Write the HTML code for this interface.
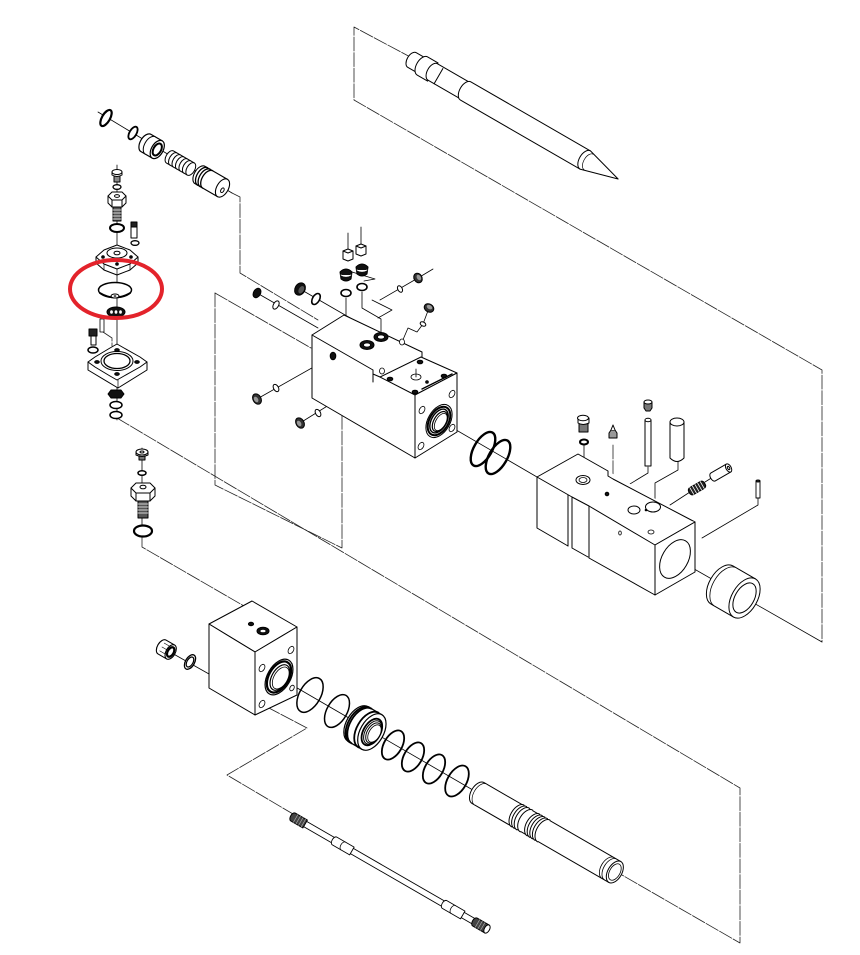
<!DOCTYPE html>
<html><head><meta charset="utf-8"><style>html,body{margin:0;padding:0;background:#fff;}svg{display:block;}</style></head>
<body>
<svg xmlns="http://www.w3.org/2000/svg" width="860" height="955" viewBox="0 0 860 955" fill="none" stroke="#000" stroke-width="1" stroke-linejoin="round" stroke-linecap="round">
<rect width="860" height="955" fill="#fff" stroke="none"/>

<!-- dashed connectors -->
<g stroke="#222" stroke-width="0.8" stroke-dasharray="14 1.6">
<path d="M414,59 L354,27 L354,100 L822,370 L822,642"/>
<path d="M232,193 L240,197 L240,273 L318,320"/>
<path d="M215,293 L311,348"/>
<path d="M215,293 L215,485 L342,548 L342,405 L372,388"/>
<path d="M117,418 L740,788 L740,943 L622,875"/>
<path d="M142,537 L142,547 L263,617 L263,628"/>
<path d="M267,707 L307,728 L227,775 L293,814"/>
<path d="M613,445 V497 L643,512"/>
<path d="M103,332 L112,338 V346"/>
</g>

<!-- axis / thin solid lines -->
<g stroke-width="0.8">
<path d="M98,112 L232,193"/>
<path d="M117,165 V420"/>
<path d="M142,448 V537"/>
<path d="M439,420 L537,477"/>
<path d="M675,558 L822,642"/>
<path d="M170,652 L209,674"/>
<path d="M280,678 L478,793"/>
<path d="M257,293 L318,328"/>
<path d="M300,289 L352,319"/>
<path d="M348,233 V250 M361,227 V245"/>
<path d="M346,298 V317 L367,329 V343"/>
<path d="M362,292 V308 L381,319 V336"/>
<path d="M352,272 L375,279 L364,281"/>
<path d="M372,300 L392,310 L378,318"/>
<path d="M257,399 L333,356"/>
<path d="M300,423 L382,372"/>
<path d="M433,269 L418,278 L380,300"/>
<path d="M429,308 L423,324 L417,332 L408,328 L405,335 L402,342"/>
<path d="M584,445 V478"/>
<path d="M648,467 V473 L620,490 L645,505"/>
<path d="M678,462 V470 L655,483 V507"/>
<path d="M670,505 L690,492"/>
<path d="M705,482 L713,477"/>
<path d="M758,498 V505 L702,538"/>
</g>

<!-- ===== pencil / chisel ===== -->
<g transform="translate(412,60) rotate(30)" fill="#fff">
<path d="M0,-8.5 L12,-8.5 L12,8.5 L0,8.5 A4.9,8.5 0 0 1 0,-8.5 Z"/>
<path d="M12,-10.5 L24,-10.5 L24,10.5 L12,10.5 A6,10.5 0 0 1 12,-10.5 Z"/>
<path d="M24,-9.5 L62,-9.5 L62,9.5 L24,9.5 A5.5,9.5 0 0 1 24,-9.5 Z"/>
<path d="M31,-8 V9.5"/>
<path d="M62,-10.5 L200,-10.5 L238,0 L200,10.5 L62,10.5 A6,10.5 0 0 1 62,-10.5 Z"/>
<path d="M200,-10.5 A6,10.5 0 0 0 200,10.5"/>
<path d="M204,-9 A5,9 0 0 0 204,9" stroke-width="0.7"/>
</g>

<!-- ===== top-left tube chain ===== -->
<g transform="translate(106,118) rotate(30)"><ellipse rx="4" ry="9" stroke-width="2.2" fill="#fff"/></g>
<g transform="translate(133,133) rotate(30)"><ellipse rx="3.5" ry="7" stroke-width="1.8" fill="#fff"/></g>
<g transform="translate(146,143) rotate(30)" fill="#fff">
<path d="M0,-10 L13,-10 L13,10 L0,10 A5.8,10 0 0 1 0,-10 Z" stroke-width="1.2"/>
<path d="M5,-10 A5.8,10 0 0 0 5,10"/>
<ellipse cx="13" rx="5.8" ry="10" stroke-width="1.2"/>
<ellipse cx="13" rx="3.8" ry="6.5" stroke-width="2"/>
</g>
<g transform="translate(170,157) rotate(30)" fill="#fff">
<path d="M0,-7 L24,-7 L24,7 L0,7 A4,7 0 0 1 0,-7 Z"/>
<path d="M4,-7 A4,7 0 0 0 4,7 M8,-7 A4,7 0 0 0 8,7 M12,-7 A4,7 0 0 0 12,7 M16,-7 A4,7 0 0 0 16,7 M20,-7 A4,7 0 0 0 20,7"/>
<ellipse cx="24" rx="4" ry="7"/>
</g>
<g transform="translate(200,175) rotate(30)" fill="#fff">
<path d="M0,-10 L26,-10 L26,10 L0,10 A5.8,10 0 0 1 0,-10 Z" stroke-width="1.1"/>
<path d="M3,-10 A5.8,10 0 0 0 3,10 M6,-10 A5.8,10 0 0 0 6,10 M9,-10 A5.8,10 0 0 0 9,10" stroke-width="1.3"/>
<ellipse cx="26" rx="5.8" ry="10" stroke-width="1.1"/>
<ellipse cx="27" cy="2" rx="1.5" ry="2.5"/>
</g>

<!-- ===== left column 1 ===== -->
<g fill="#fff">
<path d="M114,176 h6 v6 h-6 Z" fill="#888"/>
<path d="M112,172 V175 Q117,178 122,175 V172"/>
<ellipse cx="117" cy="172" rx="5" ry="2.5"/>
<ellipse cx="117" cy="187" rx="4" ry="2.3" stroke-width="1.3"/>
<path d="M108,196 V203 L112,207 H122 L126,203 V196"/>
<path d="M112,200 V207 M122,200 V207"/>
<polygon points="108,196 112,192 122,192 126,196 122,200 112,200"/>
<ellipse cx="117" cy="196" rx="2.5" ry="1.4"/>
<rect x="113" y="207" width="8" height="14" fill="#555"/>
<path d="M113,210 h8 M113,213 h8 M113,216 h8 M113,219 h8" stroke="#fff" stroke-width="0.8"/>
<ellipse cx="117" cy="228" rx="7" ry="4" stroke-width="2"/>
<!-- side screw -->
<rect x="131" y="226" width="6" height="12" fill="#fff"/>
<path d="M131,222 h6 v5 h-6 Z" fill="#222"/>
<ellipse cx="135" cy="243" rx="4" ry="2.3" stroke-width="1.3"/>
<!-- cover -->
<path d="M96,257 V263 L104,270 L117,275 L130,270 L138,263 V257"/>
<polygon points="96,257 104,250 117,245 130,250 138,257 130,264 117,269 104,264"/>
<path d="M104,264 V270 M117,269 V275 M130,264 V270" stroke-width="0.7"/>
<ellipse cx="117" cy="253" rx="10" ry="5"/>
<ellipse cx="117" cy="253" rx="3" ry="1.8"/>
<circle cx="103" cy="257" r="1.3" fill="#111"/><circle cx="131" cy="257" r="1.3" fill="#111"/><circle cx="117" cy="264" r="1.3" fill="#111"/>
<!-- diaphragm -->
<ellipse cx="115" cy="290" rx="16.5" ry="7.5" stroke-width="1.5"/>
<path d="M100,293 Q115,302 130,293" stroke-width="1.8"/>
<ellipse cx="115" cy="296" rx="4" ry="2" stroke-width="1"/>
<ellipse cx="115" cy="296" rx="1.4" ry="0.8" fill="#111" stroke="none"/>
<!-- spring ring -->
<ellipse cx="116" cy="312" rx="9" ry="5" fill="#111"/>
<ellipse cx="111.5" cy="312" rx="1.4" ry="1.8" fill="#fff" stroke="none"/><ellipse cx="116" cy="312" rx="1.4" ry="1.8" fill="#fff" stroke="none"/><ellipse cx="120.5" cy="312" rx="1.4" ry="1.8" fill="#fff" stroke="none"/>
<!-- small pin -->
<rect x="100" y="319" width="4" height="13" stroke-width="0.8"/>
<!-- screw -->
<rect x="91" y="336" width="5" height="9" fill="#fff"/>
<path d="M89,329 h8 v7 h-8 Z" fill="#222"/>
<ellipse cx="93" cy="350" rx="5" ry="3" stroke-width="1.5"/>
<!-- base flange -->
<path d="M88,362 V370 L118,388 L147,370 V362"/>
<polygon points="88,362 95,357 110,348 117,344 124,348 140,357 147,362 140,367 124,376 117,380 110,376 95,367"/>
<path d="M118,380 V388" stroke-width="0.7"/>
<ellipse cx="117" cy="361" rx="16" ry="9.5"/>
<ellipse cx="117" cy="361" rx="13" ry="7.5" stroke-width="1.3"/>
<ellipse cx="97" cy="362" rx="2.3" ry="1.4" fill="#111"/><ellipse cx="137" cy="362" rx="2.3" ry="1.4" fill="#111"/><ellipse cx="117" cy="350" rx="2.3" ry="1.4" fill="#111"/><ellipse cx="117" cy="374" rx="2.3" ry="1.4" fill="#111"/>
<!-- nut & rings -->
<polygon points="111,390 121,390 124,394 121,398 111,398 108,394" fill="#111"/>
<ellipse cx="116" cy="405" rx="6" ry="3.5" stroke-width="1.5"/>
<ellipse cx="116" cy="415" rx="6" ry="3.5" stroke-width="1.5"/>
</g>

<!-- ===== left column 2 ===== -->
<g fill="#fff">
<rect x="139" y="454" width="6" height="6" fill="#777"/>
<path d="M136,452 V455 Q142,458 148,455 V452"/>
<ellipse cx="142" cy="452" rx="6" ry="3"/>
<ellipse cx="142" cy="452" rx="2" ry="1"/>
<ellipse cx="142" cy="473" rx="4" ry="2.3" stroke-width="1.5"/>
<path d="M131,488 V496 L136,501 H150 L155,496 V488"/>
<path d="M136,493 V501 M150,493 V501"/>
<polygon points="131,488 136,483 150,483 155,488 150,493 136,493"/>
<ellipse cx="143" cy="487" rx="3" ry="1.8"/>
<rect x="138" y="501" width="10" height="17" fill="#555"/>
<path d="M138,504 h10 M138,507 h10 M138,510 h10 M138,513 h10" stroke="#fff" stroke-width="0.8"/>
<ellipse cx="143" cy="531" rx="9" ry="5.5" stroke-width="2.2"/>
</g>

<!-- ===== main block ===== -->
<g fill="#fff">
<polygon points="312,335 344,315 422,352 422,357 415,395 415,458 312,398" stroke="none"/>
<path d="M312,335 L344,315 L422,352 L422,357"/>
<path d="M312,335 L373,370 V382 M373,374 L380,377"/>
<polygon points="380,377 421,357 457,373 415,395"/>
<polygon points="415,395 457,373 457,432 415,458"/>
<path d="M312,335 V398 L415,458"/>
<!-- top holes -->
<ellipse cx="367" cy="345" rx="7" ry="4.5" fill="#111"/><ellipse cx="367" cy="345" rx="3.5" ry="2" fill="#fff" stroke-width="0.8"/>
<ellipse cx="381" cy="337" rx="7" ry="4.5" fill="#111"/><ellipse cx="381" cy="337" rx="3.5" ry="2" fill="#fff" stroke-width="0.8"/>
<ellipse cx="402" cy="342" rx="2.5" ry="3" stroke-width="0.8"/>
<ellipse cx="382" cy="371" rx="2.5" ry="3" stroke-width="0.8"/>
<ellipse cx="333" cy="356" rx="2.8" ry="3.8" fill="#111"/>
<!-- flange top holes -->
<ellipse cx="420" cy="362" rx="2.8" ry="1.8" fill="#111"/>
<ellipse cx="444" cy="376" rx="2.8" ry="1.8" fill="#111"/>
<ellipse cx="415" cy="392" rx="2.8" ry="1.8" fill="#111"/>
<ellipse cx="390" cy="379" rx="2.8" ry="1.8" fill="#111"/>
<ellipse cx="416" cy="377" rx="5" ry="3" stroke-width="0.8"/>
<path d="M416,369 V377" stroke-width="0.8"/>
<circle cx="427" cy="382" r="1.3" fill="#111"/>
<path d="M422,389 L452,374" stroke-width="1.4"/>
<!-- bore -->
<g transform="translate(439,421) rotate(30)">
<ellipse rx="11" ry="18" stroke-width="1"/>
<ellipse rx="9.5" ry="15.5" stroke-width="2"/>
<ellipse rx="7.5" ry="13" stroke-width="1.4"/>
<ellipse cx="1" rx="6" ry="11" stroke-width="1.2"/>
<ellipse cx="2" rx="5" ry="9.5" stroke-width="0.8"/>
</g>
<g transform="rotate(30 422 410)"><ellipse cx="422" cy="410" rx="2.5" ry="4" stroke-width="0.8"/></g>
<g transform="rotate(30 452 394)"><ellipse cx="452" cy="394" rx="2.5" ry="4" stroke-width="0.8"/></g>
<g transform="rotate(30 452 428)"><ellipse cx="452" cy="428" rx="2.5" ry="4" stroke-width="0.8"/></g>
<g transform="rotate(30 421 446)"><ellipse cx="421" cy="446" rx="2.5" ry="4" stroke-width="0.8"/></g>
</g>

<!-- main block small parts -->
<g fill="#fff">
<!-- top fittings -->
<path d="M343,251 v8 l5,2 l5,-2 v-8" /><polygon points="343,251 348,249 353,251 348,253"/>
<path d="M356,246 v8 l5,2 l5,-2 v-8" /><polygon points="356,246 361,244 366,246 361,248"/>
<path d="M340,272 Q346,266 352,272 L351,279 Q346,283 341,279 Z" fill="#111"/>
<path d="M341,275 Q346,278 351,275" stroke="#fff" stroke-width="0.8"/>
<path d="M356,267 Q362,261 368,267 L367,274 Q362,278 357,274 Z" fill="#111"/>
<path d="M357,270 Q362,273 367,270" stroke="#fff" stroke-width="0.8"/>
<ellipse cx="346" cy="293" rx="5" ry="3.5" stroke-width="1.6"/>
<ellipse cx="362" cy="287" rx="5" ry="3.5" stroke-width="1.6"/>
<!-- left plugs -->
<g transform="translate(257,293) rotate(30)"><ellipse rx="3.5" ry="5" fill="#111"/></g>
<g transform="translate(276,305) rotate(30)"><ellipse rx="2.6" ry="4.5" stroke-width="1"/></g>
<g transform="translate(300,289) rotate(30)"><ellipse rx="5" ry="6.5" fill="#111"/><ellipse cx="1.5" rx="2.5" ry="4" fill="#555" stroke="none"/></g>
<g transform="translate(316,299) rotate(30)"><ellipse rx="3.5" ry="6" stroke-width="1.6"/></g>
<!-- lower screws -->
<g transform="translate(257,399) rotate(-30)"><ellipse rx="4" ry="5.5" fill="#333"/><ellipse cx="-1" rx="2" ry="3" fill="#999" stroke="none"/></g>
<g transform="translate(276,388) rotate(-30)"><ellipse rx="2.4" ry="4" stroke-width="1"/></g>
<g transform="translate(300,423) rotate(-30)"><ellipse rx="4" ry="5.5" fill="#333"/><ellipse cx="-1" rx="2" ry="3" fill="#999" stroke="none"/></g>
<g transform="translate(318,413) rotate(-30)"><ellipse rx="2.4" ry="4" stroke-width="1"/></g>
<!-- right plugs -->
<g transform="translate(418,278) rotate(-30)"><ellipse rx="4" ry="5" fill="#333"/><ellipse cx="1" rx="2" ry="3" fill="#999" stroke="none"/></g>
<g transform="translate(400,289) rotate(-30)"><ellipse rx="2.2" ry="3.5" stroke-width="1"/></g>
<g transform="translate(429,308) rotate(-60)"><ellipse rx="4" ry="5" fill="#333"/><ellipse cx="1" rx="2" ry="3" fill="#999" stroke="none"/></g>
<g transform="translate(423,324) rotate(-60)"><ellipse rx="2" ry="3" stroke-width="1"/></g>
</g>

<!-- o-rings between blocks -->
<g transform="translate(483,449) rotate(30)"><ellipse rx="9" ry="19" stroke-width="2.4"/></g>
<g transform="translate(498,457) rotate(30)"><ellipse rx="9" ry="19" stroke-width="2.4"/></g>

<!-- ===== right block ===== -->
<g fill="#fff">
<polygon points="537,477 578,454 608,471 695,522 695,572 655,595 588,558 572,549 568,546 537,528" stroke="none"/>
<path d="M537,477 L578,454 L608,471 V476 L613,479 L695,522"/>
<path d="M537,477 L572,497 L589,506 L655,545 L695,522"/>
<path d="M537,477 V528 L568,546"/>
<path d="M568,495 V546 M572,497 V548 L588,557"/>
<path d="M589,506 V558 L655,595"/>
<polygon points="655,545 695,522 695,572 655,595"/>
<g transform="translate(675,559) rotate(30)"><ellipse rx="13" ry="21"/></g>
<ellipse cx="583" cy="480" rx="7" ry="4.5" stroke-width="1"/>
<ellipse cx="583" cy="480" rx="4" ry="2.5" stroke-width="0.8"/>
<circle cx="607" cy="494" r="1.8" fill="#111"/>
<ellipse cx="634" cy="510" rx="6" ry="4" stroke-width="1"/>
<ellipse cx="653" cy="507" rx="7.5" ry="5" stroke-width="1"/>
<ellipse cx="651" cy="532" rx="3" ry="2" stroke-width="0.8"/>
<ellipse cx="620" cy="533" rx="1.3" ry="2" stroke-width="0.8"/>
<circle cx="646" cy="510" r="0.8" fill="#111"/>
</g>

<!-- right block top parts -->
<g fill="#fff">
<rect x="579" y="423" width="9" height="9" fill="#777"/>
<path d="M578,418 V423 Q583,426 589,423 V418"/>
<ellipse cx="583" cy="418" rx="5.5" ry="2.8"/>
<ellipse cx="584" cy="442" rx="4" ry="2.5" stroke-width="2"/>
<path d="M609,438 L609,433 L611,430 H615 L617,433 L617,438 Z" fill="#999"/>
<path d="M611,430 L613,425 L615,430"/>
<path d="M644,402 h8 v6 l-2,3 h-4 l-2,-3 Z" fill="#777"/>
<ellipse cx="648" cy="402" rx="4" ry="2"/>
<rect x="645" y="420" width="6" height="46"/>
<ellipse cx="648" cy="420" rx="3" ry="1.7"/>
<path d="M670,422 V458 Q677,465 684,458 V422"/>
<ellipse cx="677" cy="422" rx="7" ry="4"/>
<g transform="translate(697,488) rotate(-30)">
<rect x="-9" y="-4" width="18" height="8" rx="3" fill="#222"/>
<path d="M-6,-4 V4 M-3,-4 V4 M0,-4 V4 M3,-4 V4 M6,-4 V4" stroke="#fff" stroke-width="0.8"/>
</g>
<g transform="translate(713,477) rotate(-30)">
<path d="M0,-4.5 L18,-4.5 L18,4.5 L0,4.5 A2.6,4.5 0 0 1 0,-4.5 Z"/>
<ellipse cx="18" rx="2.6" ry="4.5"/>
<ellipse cx="18" rx="1" ry="1.8"/>
</g>
<rect x="756" y="481" width="4" height="17" stroke-width="0.9"/>
<ellipse cx="758" cy="481" rx="2" ry="1" fill="#333"/>
</g>

<!-- cap -->
<g transform="translate(722,585) rotate(30)" fill="#fff">
<path d="M0,-22 L26,-22 L26,22 L0,22 A12.8,22 0 0 1 0,-22 Z"/>
<path d="M4,-22 A12.8,22 0 0 0 4,22" stroke-width="0.8"/>
<ellipse cx="26" rx="12.8" ry="22"/>
<ellipse cx="26" rx="9.5" ry="16.5"/>
</g>

<!-- ===== lower block ===== -->
<g fill="#fff">
<polygon points="209,624 252,601 297,627 255,652"/>
<polygon points="209,624 255,652 255,715 209,688"/>
<polygon points="255,652 297,627 297,695 255,715"/>
<ellipse cx="263" cy="631" rx="6" ry="3.8" fill="#111"/>
<ellipse cx="263" cy="631" rx="3" ry="1.7" fill="#fff" stroke-width="0.8"/>
<ellipse cx="251" cy="624" rx="2.6" ry="1.7" fill="#111"/>
<g transform="translate(279,677) rotate(30)">
<ellipse rx="11.5" ry="19.5" stroke-width="1.2"/>
<ellipse rx="10" ry="17" stroke-width="2.2"/>
<ellipse cx="1" rx="8" ry="14" stroke-width="1.2"/>
<ellipse cx="2" rx="6.8" ry="12" stroke-width="0.8"/>
</g>
<g transform="rotate(30 262 668)"><ellipse cx="262" cy="668" rx="2.5" ry="4" stroke-width="0.8"/></g>
<g transform="rotate(30 291 650)"><ellipse cx="291" cy="650" rx="2.5" ry="4" stroke-width="0.8"/></g>
<g transform="rotate(30 262 704)"><ellipse cx="262" cy="704" rx="2.5" ry="4" stroke-width="0.8"/></g>
<g transform="rotate(30 292 688)"><ellipse cx="292" cy="688" rx="2" ry="3" stroke-width="0.8"/></g>
</g>

<!-- nut & washer left of lower block -->
<g transform="translate(162,647) rotate(30)" fill="#fff">
<path d="M0,-8 L10,-8 L10,8 L0,8 A4.6,8 0 0 1 0,-8 Z" stroke-width="1.1"/>
<path d="M0,0 H10 M0,-4.5 H10 M0,4.5 H10" stroke-width="0.6"/>
<ellipse cx="10" rx="4.6" ry="8" stroke-width="1.1"/>
<ellipse cx="10" rx="3" ry="5.2" stroke-width="2.2"/>
</g>
<g transform="translate(190,662) rotate(30)" fill="#fff">
<ellipse rx="4.5" ry="8" stroke-width="1.3"/>
<ellipse rx="3" ry="5.5" stroke-width="1.2"/>
</g>

<!-- lower o-rings & seal -->
<g transform="translate(310,695) rotate(30)"><ellipse rx="10.5" ry="19" stroke-width="1.5"/></g>
<g transform="translate(337,711) rotate(30)"><ellipse rx="10" ry="18" stroke-width="1.5"/></g>
<g transform="translate(358,724) rotate(30)" fill="#fff">
<path d="M0,-20 L16,-20 L16,20 L0,20 A11.6,20 0 0 1 0,-20 Z" stroke-width="1.2"/>
<path d="M2,-20 A11.6,20 0 0 0 2,20 M4,-20 A11.6,20 0 0 0 4,20" stroke-width="1.8"/>
<path d="M12,-20 A11.6,20 0 0 0 12,20" stroke-width="1.8"/>
<ellipse cx="16" rx="11.6" ry="20" stroke-width="1.2"/>
<ellipse cx="16" rx="8.5" ry="14.5" stroke-width="1.8"/>
<ellipse cx="17" rx="7.5" ry="12.8" stroke-width="1"/>
<ellipse cx="18" rx="6.5" ry="11" stroke-width="1"/>
<ellipse cx="19" rx="5.5" ry="9.5" stroke-width="0.8"/>
</g>
<g transform="translate(393,745) rotate(30)"><ellipse rx="9" ry="16" stroke-width="1.8"/></g>
<g transform="translate(413,757) rotate(30)"><ellipse rx="9" ry="16" stroke-width="1.8"/></g>
<g transform="translate(434,769) rotate(30)"><ellipse rx="9" ry="16" stroke-width="1.8"/></g>
<g transform="translate(457,781) rotate(30)"><ellipse rx="9.5" ry="17" stroke-width="1.8"/></g>

<!-- piston -->
<g transform="translate(478,793) rotate(30)" fill="#fff">
<path d="M0,-12 L158,-12 L158,12 L0,12 A7,12 0 0 1 0,-12 Z" stroke-width="1"/>
<path d="M3,-12 A7,12 0 0 0 3,12" stroke-width="0.7"/>
<path d="M46,-12.5 A7.2,12.5 0 0 0 46,12.5 M49,-12.5 A7.2,12.5 0 0 0 49,12.5 M52,-12.5 A7.2,12.5 0 0 0 52,12.5 M56,-12.5 A7.2,12.5 0 0 0 56,12.5" stroke-width="1"/>
<path d="M64,-12.5 A7.2,12.5 0 0 0 64,12.5 M67,-12.5 A7.2,12.5 0 0 0 67,12.5 M70,-12.5 A7.2,12.5 0 0 0 70,12.5 M73,-12.5 A7.2,12.5 0 0 0 73,12.5 M76,-12.5 A7.2,12.5 0 0 0 76,12.5" stroke-width="1"/>
<path d="M150,-12 A7,12 0 0 0 150,12 M153,-12 A7,12 0 0 0 153,12" stroke-width="0.8"/>
<ellipse cx="158" rx="7" ry="12"/>
<ellipse cx="158" rx="5.2" ry="9" stroke-width="0.8"/>
</g>

<!-- rod -->
<g transform="translate(293,817) rotate(30)" fill="#fff">
<path d="M0,-4.5 L14,-4.5 L14,4.5 L0,4.5 A2.6,4.5 0 0 1 0,-4.5 Z" fill="#444"/>
<path d="M3,-4.5 V4.5 M6,-4.5 V4.5 M9,-4.5 V4.5 M12,-4.5 V4.5" stroke="#bbb" stroke-width="0.6"/>
<path d="M14,-3 H48 M14,3 H48" stroke-width="0.9"/>
<path d="M48,-4.5 L68,-4.5 L68,4.5 L48,4.5 A2.6,4.5 0 0 1 48,-4.5 Z" stroke-width="0.9"/>
<path d="M58,-4.5 A2.6,4.5 0 0 0 58,4.5" stroke-width="0.8"/>
<path d="M68,-3 H175 M68,3 H175" stroke-width="0.9"/>
<path d="M175,-4.5 L196,-4.5 L196,4.5 L175,4.5 A2.6,4.5 0 0 1 175,-4.5 Z" stroke-width="0.9"/>
<path d="M185,-4.5 A2.6,4.5 0 0 0 185,4.5" stroke-width="0.8"/>
<path d="M196,-3 H210 M196,3 H210" stroke-width="0.9"/>
<path d="M210,-4.5 L224,-4.5 L224,4.5 L210,4.5 A2.6,4.5 0 0 1 210,-4.5 Z" fill="#444"/>
<path d="M213,-4.5 V4.5 M216,-4.5 V4.5 M219,-4.5 V4.5" stroke="#bbb" stroke-width="0.6"/>
<ellipse cx="224" rx="2.6" ry="4.5" fill="#fff"/>
</g>

<!-- red highlight -->
<ellipse cx="116" cy="289" rx="46" ry="29" stroke="#e3232b" stroke-width="4"/>
</svg>
</body></html>
